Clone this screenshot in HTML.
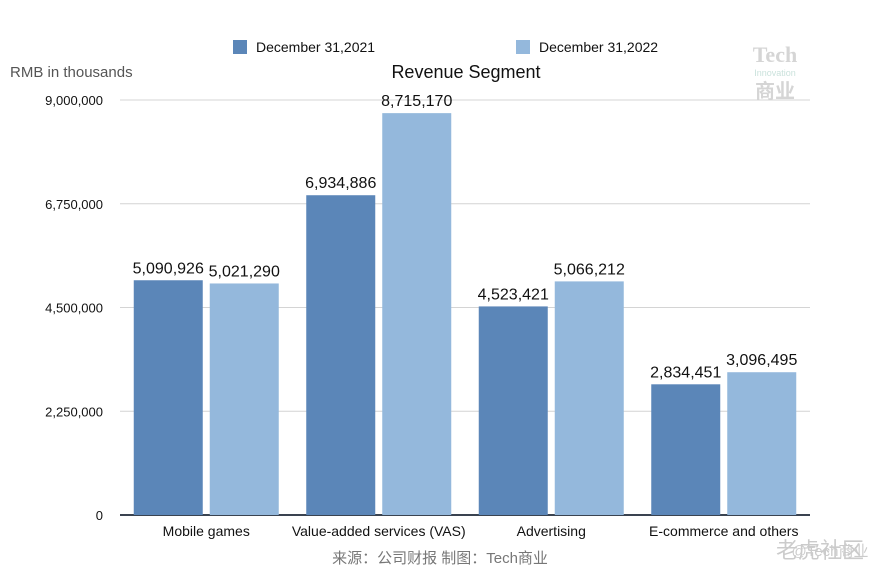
<!DOCTYPE html>
<html><head><meta charset="utf-8">
<style>
body{margin:0;background:#fff;}
svg{display:block;font-family:"Liberation Sans","Noto Sans CJK SC",sans-serif;}
</style></head>
<body>
<svg id="chart" width="894" height="572" xmlns="http://www.w3.org/2000/svg">
<rect width="894" height="572" fill="#fff"/>
<g>
<rect x="233" y="40" width="14" height="14" fill="#5b86b8"/>
<text x="256" y="52" font-size="14" fill="#111">December 31,2021</text>
<rect x="516" y="40" width="14" height="14" fill="#94b8dc"/>
<text x="539" y="52" font-size="14" fill="#111">December 31,2022</text>
</g>
<text x="10" y="77" font-size="15" fill="#555">RMB in thousands</text>
<text x="466" y="78" font-size="18" text-anchor="middle" fill="#111">Revenue Segment</text>
<g opacity="0.35">
<text x="775" y="62" font-size="22" font-weight="bold" text-anchor="middle" fill="#888" font-family="Liberation Serif,serif">Tech</text>
<text x="775" y="76" font-size="9" text-anchor="middle" fill="#6a9">Innovation</text>
<text x="775" y="98" font-size="20" font-weight="bold" text-anchor="middle" fill="#888">商业</text>
</g>
<g id="grid"></g>
<g id="bars"></g>
<g id="labels"></g>
<text x="440" y="563" font-size="15" text-anchor="middle" fill="#777">来源：公司财报 制图：Tech商业</text>
<g opacity="0.5">
<text x="820" y="558" font-size="22" text-anchor="middle" fill="#999">老虎社区</text>
<text x="830" y="556" font-size="15" text-anchor="middle" fill="#999" dy="0">@Tech商业</text>
</g>
</svg>
<script>
const categories=["Mobile games","Value-added services (VAS)","Advertising","E-commerce and others"];
const values2021=[5090926,6934886,4523421,2834451];
const values2022=[5021290,8715170,5066212,3096495];
const ticks=[0,2250000,4500000,6750000,9000000];
const NS="http://www.w3.org/2000/svg";
const x0=120,x1=810,yBase=515,yTop=100,maxV=9000000;
const y=v=>yBase-(v/maxV)*(yBase-yTop);
const bw=(x1-x0)/categories.length;
const fmt=v=>v.toLocaleString('en-US');
function mk(tag,attrs,parent,text){const e=document.createElementNS(NS,tag);for(const k in attrs)e.setAttribute(k,attrs[k]);if(text!==undefined)e.textContent=text;parent.appendChild(e);return e;}
const grid=document.getElementById('grid'),bars=document.getElementById('bars'),labels=document.getElementById('labels');
ticks.forEach(t=>{
 if(t>0){const l=mk('line',{x1:x0,x2:x1,y1:y(t),y2:y(t),stroke:'#d4d4d4','stroke-width':1},grid);
 
 }
 const tx=mk('text',{x:103,y:y(t)+5,'font-size':13,'text-anchor':'end',fill:'#111'},grid,fmt(t));
 
 
});
const ax=mk('line',{x1:x0,x2:x1,y1:yBase,y2:yBase,stroke:'#3a4350','stroke-width':2},grid);


const barW=69,gap=7;
categories.forEach((c,i)=>{
 const cx=x0+bw*i+bw/2;
 [[values2021[i],'#5b86b8',cx-gap/2-barW,'2021'],[values2022[i],'#94b8dc',cx+gap/2,'2022']].forEach(([v,col,bx,yr])=>{
  const r=mk('rect',{x:bx,y:y(v),width:barW,height:yBase-y(v),fill:col},bars);
  
  
  const t=mk('text',{x:bx+barW/2,y:y(v)-7,'font-size':16,'text-anchor':'middle',fill:'#111'},labels,fmt(v));
  
  
 });
 const cl=mk('text',{x:cx,y:536,'font-size':14,'text-anchor':'middle',fill:'#111'},labels,c);
 
 
});
</script>
</body></html>
